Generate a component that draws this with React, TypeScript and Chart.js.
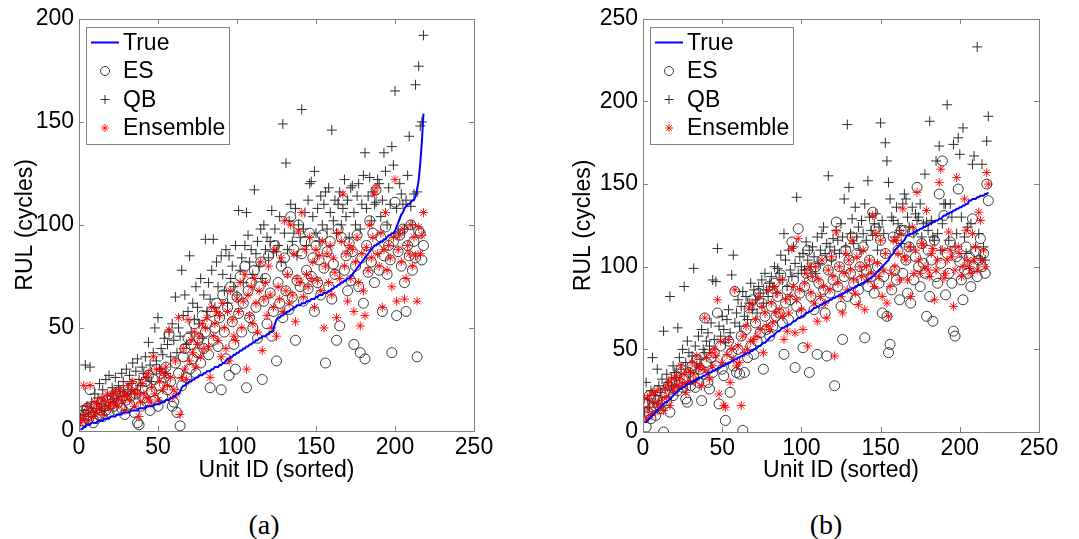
import React, { useEffect, useRef } from 'react';
import { Chart, registerables } from 'chart.js';

Chart.register(...registerables);

// ---------------- Data: panel (a) ----------------
const trueA = [
  1, 1, 2, 2, 3, 3, 3, 4, 4, 4,
  4, 5, 5, 5, 5, 6, 6, 6, 6, 7,
  7, 7, 7, 8, 8, 8, 8, 9, 9, 9,
  9, 9, 10, 10, 10, 10, 10, 11, 11, 11,
  11, 11, 12, 12, 12, 12, 12, 13, 13, 13,
  13, 14, 14, 14, 15, 15, 15, 16, 16, 17,
  17, 18, 18, 19, 21, 22, 22, 23, 23, 24,
  24, 25, 25, 26, 26, 27, 27, 27, 28, 28,
  29, 29, 29, 30, 30, 31, 31, 31, 32, 32,
  33, 33, 34, 35, 35, 36, 36, 37, 37, 38,
  38, 39, 39, 40, 40, 41, 41, 42, 42, 43,
  43, 44, 44, 45, 45, 46, 46, 46, 47, 47,
  48, 48, 49, 52, 54, 55, 55, 56, 56, 57,
  57, 58, 58, 59, 59, 60, 60, 61, 61, 61,
  62, 62, 62, 63, 63, 63, 64, 64, 64, 65,
  65, 66, 66, 66, 67, 67, 67, 68, 68, 69,
  69, 70, 70, 71, 71, 72, 72, 73, 73, 74,
  74, 75, 76, 77, 78, 79, 80, 81, 82, 83,
  84, 85, 86, 87, 88, 89, 90, 90, 91, 91,
  92, 92, 93, 93, 94, 95, 95, 96, 96, 97,
  99, 101, 103, 105, 106, 108, 109, 110, 110, 111,
  112, 112, 114, 117, 122, 130, 140, 154,
];

const esA = [
  3, 5, 10, 8, 11, 6, 20, 9, 4, 12,
  6, 11, 8, 14, 7, 12, 10, 15, 9, 13,
  16, 12, 18, 10, 14, 19, 11, 17, 8, 15,
  20, 13, 17, 22, 9, 18, 4, 3, 12, 21,
  16, 24, 14, 27, 10, 19, 25, 15, 30, 12,
  22, 28, 17, 26, 31, 20, 47, 24, 12, 14,
  33, 9, 28, 2.5, 22, 36, 40, 26, 45, 30,
  42, 35, 52, 28, 38, 45, 33, 56, 40, 48,
  52, 37, 21, 58, 44, 50, 62, 41, 55, 20,
  66, 48, 35, 60, 27, 70, 53, 42, 30, 65,
  57, 75, 48, 62, 80, 21, 68, 55, 72, 50,
  78, 60, 45, 70, 82, 25, 63, 74, 52, 85,
  67, 46, 58, 90, 34, 72, 62, 80, 55, 84,
  68, 77, 59, 104, 65, 88, 44, 73, 100, 70,
  86, 63, 92, 78, 69, 96, 75, 84, 58, 90,
  72, 83, 66, 95, 79, 33, 87, 70, 92, 64,
  81, 76, 44, 98, 51, 94, 112, 78, 85, 68,
  91, 73, 87, 42, 80, 95, 70, 38, 84, 62,
  35, 90, 77, 102, 82, 96, 72, 117, 88, 78,
  94, 58, 85, 99, 76, 90, 83, 38, 92, 111,
  56, 87, 95, 80, 98, 72, 58, 90, 85, 100,
  78, 92, 84, 36, 97, 96, 83, 90,
];

const qbA = [
  5, 10, 8, 32, 12, 7, 31, 14, 9, 18,
  11, 16, 23, 13, 20, 10, 25, 17, 27, 14,
  21, 18, 26, 15, 22, 19, 28, 24, 17, 30,
  20, 27, 23, 33, 18, 29, 35, 25, 22, 31,
  28, 36, 26, 43, 32, 24, 38, 50, 34, 55,
  30, 40, 37, 45, 28, 42, 48, 36, 52, 44,
  65, 38, 50, 46, 78, 56, 66, 42, 58, 85,
  48, 62, 54, 70, 60, 52, 74, 45, 66, 93,
  58, 72, 64, 78, 93, 60, 82, 70, 56, 85,
  76, 68, 88, 62, 85, 74, 80, 70, 90, 66,
  107, 78, 84, 72, 90, 106, 95, 82, 88, 76,
  117, 86, 92, 80, 98, 74, 100, 88, 94, 84,
  92, 107, 87, 98, 87, 90, 104, 82, 149, 96,
  130, 88, 102, 110, 92, 96, 108, 85, 100, 94,
  156, 98, 106, 90, 112, 120, 121, 104, 126, 96,
  108, 92, 114, 100, 110, 116, 98, 118, 106, 146,
  102, 112, 96, 110, 116, 100, 108, 122, 104, 112,
  94, 118, 119, 106, 100, 114, 120, 98, 110, 124,
  135, 108, 114, 123, 102, 116, 110, 111, 122, 120,
  104, 112, 135, 126, 100, 118, 110, 138, 129, 165,
  108, 96, 120, 115, 110, 98, 112, 124, 143, 109,
  100, 115, 168, 116, 177, 148, 150, 192,
];

const ensA = [
  4, 6, 22, 8, 12, 5, 22, 10, 7, 14,
  9, 13, 11, 16, 8, 15, 12, 18, 11, 14,
  17, 13, 19, 12, 16, 20, 14, 18, 10, 17,
  22, 15, 19, 24, 12, 20, 18, 7, 14, 23,
  18, 26, 16, 28, 14, 21, 36, 18, 30, 15,
  24, 29, 20, 27, 31, 22, 49, 26, 16, 20,
  34, 18, 55, 8, 26, 40, 30, 25, 54, 34,
  44, 38, 48, 31, 42, 46, 36, 52, 40, 50,
  55, 41, 26, 60, 46, 52, 58, 44, 56, 36,
  62, 50, 40, 58, 34, 68, 54, 46, 44, 64,
  58, 72, 50, 63, 76, 30, 66, 56, 70, 52,
  74, 62, 48, 68, 82, 39, 64, 72, 56, 80,
  66, 50, 60, 88, 46, 70, 64, 84, 58, 102,
  68, 76, 62, 100, 66, 86, 53, 74, 97, 72,
  106, 65, 88, 76, 70, 94, 74, 82, 60, 88,
  73, 85, 68, 92, 50, 80, 86, 72, 90, 66,
  84, 77, 55, 96, 74, 92, 115, 80, 86, 63,
  90, 74, 88, 58, 82, 94, 72, 51, 86, 68,
  56, 89, 78, 100, 84, 94, 115, 118, 86, 80,
  96, 60, 88, 106, 78, 90, 84, 70, 94, 122,
  63, 88, 95, 82, 98, 64, 74, 90, 86, 100,
  80, 94, 85, 63, 99, 86, 95, 106,
];

// ---------------- Data: panel (b) ----------------
const trueB = [
  6, 6, 7, 8, 9, 10, 11, 12, 13, 14,
  15, 16, 17, 18, 18, 19, 20, 21, 22, 23,
  24, 25, 26, 26, 27, 27, 28, 29, 29, 30,
  30, 31, 31, 32, 32, 33, 33, 34, 34, 35,
  35, 36, 36, 37, 37, 38, 38, 39, 39, 40,
  40, 41, 41, 42, 42, 43, 43, 44, 44, 45,
  45, 46, 46, 47, 47, 48, 48, 49, 49, 50,
  50, 51, 52, 52, 53, 54, 54, 55, 56, 57,
  58, 58, 59, 60, 61, 61, 62, 63, 63, 64,
  64, 65, 65, 66, 67, 67, 68, 69, 69, 70,
  70, 71, 72, 72, 73, 73, 74, 75, 75, 76,
  76, 77, 77, 78, 78, 79, 79, 80, 80, 81,
  81, 82, 82, 83, 83, 84, 84, 85, 85, 86,
  86, 87, 87, 88, 88, 89, 89, 90, 90, 91,
  91, 92, 93, 93, 94, 95, 96, 97, 98, 99,
  100, 101, 102, 103, 104, 106, 107, 108, 110, 111,
  112, 113, 114, 115, 116, 118, 119, 119, 120, 120,
  121, 121, 122, 122, 123, 123, 124, 124, 125, 125,
  126, 126, 127, 127, 128, 128, 129, 129, 130, 131,
  131, 132, 132, 133, 133, 134, 134, 135, 135, 136,
  136, 137, 137, 138, 138, 140, 140, 141, 141, 141,
  142, 142, 143, 143, 143, 144, 144, 145,
];

const esB = [
  18, 3, 12, 22, 8, 15, 20, 10, 25, 16,
  14, 18, 0, 24, 19, 28, 12, 30, 22, 26,
  34, 25, 30, 38, 27, 32, 20, 18, 36, 28,
  40, 33, 27, 44, 30, 38, 19, 35, 69, 42,
  30, 26, 45, 36, 48, 40, 72, 17, 52, 38,
  34, 7, 44, 55, 24, 48, 40, 85, 36, 50,
  35, 58, 1, 36, 62, 45, 75, 52, 80, 47,
  66, 55, 84, 60, 78, 38, 70, 62, 88, 58,
  76, 64, 90, 70, 82, 72, 95, 66, 47, 78,
  86, 68, 80, 115, 92, 39, 76, 123, 84, 72,
  51, 88, 96, 110, 36, 82, 94, 74, 100, 47,
  90, 78, 104, 86, 72, 46, 98, 84, 106, 92,
  28, 127, 88, 100, 76, 56, 94, 110, 82, 104,
  96, 118, 90, 80, 108, 86, 100, 92, 112, 57,
  98, 88, 104, 94, 133, 84, 123, 100, 90, 116,
  72, 94, 108, 70, 48, 53, 86, 118, 98, 92,
  110, 80, 122, 96, 122, 104, 84, 112, 78, 121,
  92, 106, 148, 100, 88, 114, 102, 96, 70, 110,
  82, 104, 67, 116, 94, 90, 144, 102, 164, 131,
  83, 108, 96, 115, 90, 61, 58, 106, 147, 103,
  92, 80, 98, 112, 96, 106, 88, 129, 100, 109,
  94, 104, 117, 100, 108, 96, 150, 140,
];

const qbB = [
  12, 30, 20, 15, 25, 45, 18, 22, 38, 28,
  24, 32, 61, 26, 35, 30, 82, 28, 40, 36,
  33, 63, 45, 38, 50, 88, 42, 55, 48, 36,
  46, 99, 52, 40, 58, 44, 62, 50, 48, 55,
  60, 52, 66, 92, 56, 91, 111, 64, 58, 70,
  62, 54, 68, 74, 60, 95, 107, 66, 72, 80,
  64, 76, 85, 70, 82, 68, 78, 90, 74, 86,
  80, 72, 88, 84, 92, 78, 96, 86, 82, 90,
  94, 88, 100, 84, 99, 96, 107, 92, 120, 104,
  88, 110, 98, 94, 112, 102, 142, 96, 106, 100,
  108, 98, 115, 104, 110, 100, 112, 106, 96, 118,
  102, 110, 120, 124, 108, 114, 155, 112, 104, 117,
  110, 122, 116, 108, 126, 118, 141, 112, 186, 148,
  120, 129, 114, 136, 118, 124, 110, 128, 120, 138,
  116, 152, 130, 122, 119, 126, 132, 110, 124, 187,
  128, 120, 175, 164, 151, 141, 130, 128, 118, 136,
  126, 122, 114, 138, 144, 141, 130, 124, 112, 136,
  120, 132, 128, 130, 138, 118, 126, 156, 127, 122,
  188, 128, 118, 116, 164, 120, 173, 110, 126, 138,
  138, 198, 116, 138, 130, 174, 112, 120, 178, 168,
  130, 184, 118, 108, 124, 99, 126, 162, 167, 112,
  233, 120, 105, 162, 112, 104, 176, 191,
];

const ensB = [
  20, 8, 14, 22, 10, 18, 24, 12, 25, 17,
  15, 20, 13, 26, 21, 29, 16, 32, 24, 27,
  34, 28, 32, 40, 29, 35, 24, 30, 37, 30,
  42, 35, 31, 46, 39, 40, 28, 38, 69, 45,
  36, 32, 48, 40, 50, 46, 80, 23, 55, 42,
  16, 15, 47, 56, 30, 50, 44, 86, 40, 52,
  42, 16, 58, 48, 64, 50, 75, 55, 78, 56,
  68, 58, 82, 62, 76, 48, 72, 64, 86, 62,
  78, 66, 88, 72, 84, 74, 92, 70, 56, 80,
  61, 72, 82, 111, 88, 60, 80, 117, 86, 74,
  62, 90, 96, 52, 100, 84, 94, 78, 100, 67,
  92, 82, 104, 88, 78, 69, 98, 86, 106, 94,
  46, 121, 90, 100, 82, 72, 96, 108, 86, 104,
  98, 116, 92, 84, 106, 77, 100, 94, 110, 74,
  100, 92, 104, 96, 131, 88, 120, 102, 94, 116,
  82, 98, 108, 78, 70, 88, 96, 116, 100, 116,
  108, 92, 120, 135, 106, 104, 92, 112, 82, 124,
  96, 110, 145, 104, 96, 114, 113, 100, 134, 98,
  94, 108, 111, 80, 98, 104, 151, 159, 110, 93,
  96, 104, 121, 110, 106, 76, 98, 154, 112, 108,
  94, 100, 141, 122, 104, 100, 96, 120, 104, 112,
  98, 133, 128, 104, 110, 100, 157, 150,
];

// ---------------- Ticks & labels ----------------
const xTickValues = [0, 50, 100, 150, 200, 250];
const yTickValuesA = [0, 50, 100, 150, 200];
const yTickValuesB = [0, 50, 100, 150, 200, 250];
const legendLabels = ['True', 'ES', 'QB', 'Ensemble'];
const xAxisTitle = 'Unit ID (sorted)';
const yAxisTitle = 'RUL (cycles)';
const captionA = '(a)';
const captionB = '(b)';

const SANS = "'Liberation Sans', Arial, Helvetica, sans-serif";
const SERIF = "'Liberation Serif', 'Times New Roman', serif";
const BOX_COLOR = '#808080';
const ES_COLOR = '#3a3a3a';
const QB_COLOR = '#2e2e2e';
const ENS_COLOR = 'rgba(255,0,0,0.9)';
const TRUE_COLOR = '#0000ff';

const toPoints = (vals: number[]) => vals.map((v, i) => ({ x: i + 1, y: v }));

type PanelProps = {
  left: number;
  width: number;
  height: number;
  plotLeft: number;
  plotRight: number;
  plotTop: number;
  plotBottom: number;
  yTitleCenter: number;
  yMax: number;
  yTicks: number[];
  trueVals: number[];
  es: number[];
  qb: number[];
  ens: number[];
};

function drawStar(ctx: CanvasRenderingContext2D, x: number, y: number, r: number) {
  const d = r * Math.SQRT1_2;
  ctx.beginPath();
  ctx.moveTo(x - r, y); ctx.lineTo(x + r, y);
  ctx.moveTo(x, y - r); ctx.lineTo(x, y + r);
  ctx.moveTo(x - d, y - d); ctx.lineTo(x + d, y + d);
  ctx.moveTo(x - d, y + d); ctx.lineTo(x + d, y - d);
  ctx.stroke();
}

function Panel(p: PanelProps) {
  const ref = useRef<HTMLCanvasElement>(null);
  useEffect(() => {
    const canvas = ref.current;
    if (!canvas) return;

    const framePlugin = {
      id: 'matlabFrame',
      afterDraw(chart: any) {
        const ctx: CanvasRenderingContext2D = chart.ctx;
        const { left, right, top, bottom } = chart.chartArea;
        const xs = chart.scales.x;
        const ys = chart.scales.y;
        ctx.save();
        ctx.strokeStyle = BOX_COLOR;
        ctx.lineWidth = 1;
        ctx.strokeRect(Math.round(left) + 0.5, Math.round(top) + 0.5, Math.round(right - left), Math.round(bottom - top));
        const tl = 5;
        ctx.beginPath();
        xTickValues.forEach((v) => {
          const px = Math.round(xs.getPixelForValue(v)) + 0.5;
          ctx.moveTo(px, bottom); ctx.lineTo(px, bottom - tl);
          ctx.moveTo(px, top); ctx.lineTo(px, top + tl);
        });
        p.yTicks.forEach((v) => {
          const py = Math.round(ys.getPixelForValue(v)) + 0.5;
          ctx.moveTo(left, py); ctx.lineTo(left + tl, py);
          ctx.moveTo(right, py); ctx.lineTo(right - tl, py);
        });
        ctx.stroke();

        // legend box
        const bx = Math.round(left) + 7;
        const by = Math.round(top) + 8;
        const bw = 143;
        const bh = 117;
        ctx.fillStyle = '#ffffff';
        ctx.fillRect(bx, by, bw, bh);
        ctx.strokeStyle = BOX_COLOR;
        ctx.strokeRect(bx + 0.5, by + 0.5, bw, bh);
        const rows = [by + 15.5, by + 44, by + 72.5, by + 101];
        const mx = bx + 19;
        // True line
        ctx.strokeStyle = TRUE_COLOR;
        ctx.lineWidth = 2;
        ctx.beginPath();
        ctx.moveTo(bx + 5, rows[0]); ctx.lineTo(bx + 33, rows[0]);
        ctx.stroke();
        // ES circle
        ctx.lineWidth = 1;
        ctx.strokeStyle = ES_COLOR;
        ctx.beginPath();
        ctx.arc(mx, rows[1], 4.5, 0, Math.PI * 2);
        ctx.stroke();
        // QB plus
        ctx.strokeStyle = QB_COLOR;
        ctx.beginPath();
        ctx.moveTo(mx - 4.5, rows[2]); ctx.lineTo(mx + 4.5, rows[2]);
        ctx.moveTo(mx, rows[2] - 4.5); ctx.lineTo(mx, rows[2] + 4.5);
        ctx.stroke();
        // Ensemble star
        ctx.strokeStyle = ENS_COLOR;
        drawStar(ctx, mx, rows[3], 4);
        // labels
        ctx.fillStyle = '#000000';
        ctx.font = `23px ${SANS}`;
        ctx.textBaseline = 'middle';
        ctx.textAlign = 'left';
        legendLabels.forEach((t, i) => ctx.fillText(t, bx + 37, rows[i] + 1));
        ctx.restore();
      },
    };

    const chart = new Chart(canvas, {
      type: 'scatter',
      data: {
        datasets: [
          {
            label: legendLabels[0],
            data: toPoints(p.trueVals),
            showLine: true,
            borderColor: TRUE_COLOR,
            borderWidth: 2,
            pointRadius: 0,
            fill: false,
            tension: 0,
          },
          {
            label: legendLabels[3],
            data: toPoints(p.ens),
            pointStyle: 'star',
            pointRadius: 4.5,
            pointBorderColor: ENS_COLOR,
            pointBackgroundColor: 'rgba(0,0,0,0)',
            pointBorderWidth: 1,
          },
          {
            label: legendLabels[2],
            data: toPoints(p.qb),
            pointStyle: 'cross',
            pointRadius: 5,
            pointBorderColor: QB_COLOR,
            pointBackgroundColor: 'rgba(0,0,0,0)',
            pointBorderWidth: 1,
          },
          {
            label: legendLabels[1],
            data: toPoints(p.es),
            pointStyle: 'circle',
            pointRadius: 5,
            pointBorderColor: ES_COLOR,
            pointBackgroundColor: 'rgba(0,0,0,0)',
            pointBorderWidth: 1,
          },
        ],
      } as any,
      options: {
        animation: false,
        responsive: false,
        maintainAspectRatio: false,
        events: [],
        layout: {
          padding: { left: 0, top: p.plotTop, right: p.width - p.plotRight, bottom: 0 },
        },
        plugins: {
          legend: { display: false },
          tooltip: { enabled: false },
        },
        scales: {
          x: {
            type: 'linear',
            position: 'bottom',
            min: 0,
            max: 250,
            grid: { display: false, drawTicks: false },
            border: { display: false },
            ticks: {
              stepSize: 50,
              color: '#000',
              font: { family: SANS, size: 23 },
              padding: 3,
              maxRotation: 0,
              autoSkip: false,
            },
            title: {
              display: true,
              text: xAxisTitle,
              color: '#000',
              font: { family: SANS, size: 23 },
              padding: { top: 0, bottom: 6 },
            },
            afterFit: (s: any) => {
              s.height = p.height - p.plotBottom;
            },
          },
          y: {
            type: 'linear',
            position: 'left',
            min: 0,
            max: p.yMax,
            grid: { display: false, drawTicks: false },
            border: { display: false },
            ticks: {
              stepSize: 50,
              color: '#000',
              font: { family: SANS, size: 23 },
              padding: 5,
            },
            title: {
              display: true,
              text: yAxisTitle,
              color: '#000',
              font: { family: SANS, size: 23 },
              padding: { top: p.yTitleCenter - 13.8, bottom: 0 },
            },
            afterFit: (s: any) => {
              s.width = p.plotLeft;
            },
          },
        },
      } as any,
      plugins: [framePlugin],
    });
    return () => chart.destroy();
  }, []);
  return (
    <canvas
      ref={ref}
      width={p.width}
      height={p.height}
      style={{ position: 'absolute', left: p.left, top: 0, width: p.width, height: p.height }}
    />
  );
}

function Caption({ text, cx }: { text: string; cx: number }) {
  return (
    <div
      style={{
        position: 'absolute',
        left: cx - 50,
        width: 100,
        top: 509,
        height: 32,
        lineHeight: '32px',
        textAlign: 'center',
        fontFamily: SERIF,
        fontSize: 28,
        color: '#000',
      }}
    >
      {text}
    </div>
  );
}

export default function App() {
  return (
    <div
      style={{
        position: 'absolute',
        left: 0,
        top: 0,
        width: 1079,
        height: 539,
        background: '#fff',
        overflow: 'hidden',
      }}
    >
      <Panel
        left={0}
        width={540}
        height={490}
        plotLeft={79}
        plotRight={474}
        plotTop={18}
        plotBottom={431}
        yTitleCenter={26}
        yMax={200}
        yTicks={yTickValuesA}
        trueVals={trueA}
        es={esA}
        qb={qbA}
        ens={ensA}
      />
      <Panel
        left={540}
        width={539}
        height={490}
        plotLeft={103}
        plotRight={499}
        plotTop={17}
        plotBottom={432}
        yTitleCenter={44}
        yMax={250}
        yTicks={yTickValuesB}
        trueVals={trueB}
        es={esB}
        qb={qbB}
        ens={ensB}
      />
      <Caption text={captionA} cx={264} />
      <Caption text={captionB} cx={826} />
    </div>
  );
}
